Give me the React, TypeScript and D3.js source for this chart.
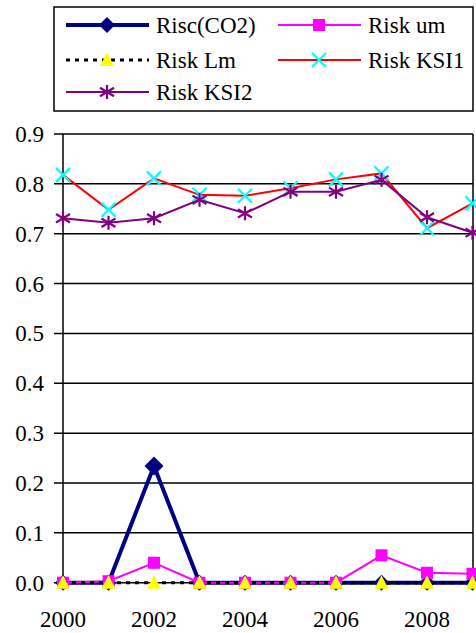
import React, { useEffect, useRef } from 'react';
import * as d3 from 'd3';

const years = [2000, 2001, 2002, 2003, 2004, 2005, 2006, 2007, 2008, 2009];
const riscCO2 = [0, 0, 0.234, 0, 0, 0, 0, 0, 0, 0];
const riskUm = [0, 0.003, 0.04, 0, 0, 0, 0, 0.055, 0.02, 0.018];
const riskLm = [0, 0, 0, 0, 0, 0, 0, 0, 0, 0];
const riskKSI1 = [0.818, 0.748, 0.811, 0.778, 0.776, 0.791, 0.809, 0.821, 0.711, 0.761];
const riskKSI2 = [0.731, 0.722, 0.731, 0.768, 0.741, 0.784, 0.784, 0.808, 0.733, 0.702];
const yTicks = [0, 0.1, 0.2, 0.3, 0.4, 0.5, 0.6, 0.7, 0.8, 0.9];
const xTicks = [2000, 2002, 2004, 2006, 2008];

const series = [
  { name: 'Risc(CO2)', values: riscCO2, color: '#000080', width: 4, dash: '', marker: 'diamond', mcolor: '#000080' },
  { name: 'Risk um', values: riskUm, color: '#ff00ff', width: 2, dash: '', marker: 'square', mcolor: '#ff00ff' },
  { name: 'Risk Lm', values: riskLm, color: '#000000', width: 3, dash: '4,5', marker: 'triangle', mcolor: '#ffff00' },
  { name: 'Risk KSI1', values: riskKSI1, color: '#ff0000', width: 2, dash: '', marker: 'x', mcolor: '#00ffff' },
  { name: 'Risk KSI2', values: riskKSI2, color: '#800080', width: 2, dash: '', marker: 'star', mcolor: '#800080' },
];

const Marker = ({ type, x, y, color, big }: { type: string; x: number; y: number; color: string; big?: boolean }) => {
  if (type === 'diamond') {
    const r = big ? 9.5 : 8;
    return <path d={`M${x},${y - r}L${x + r},${y}L${x},${y + r}L${x - r},${y}Z`} fill={color} />;
  }
  if (type === 'square') {
    return <rect x={x - 6} y={y - 6} width={12} height={12} fill={color} />;
  }
  if (type === 'triangle') {
    return <path d={`M${x},${y - 7.5}L${x + 7},${y + 6}L${x - 7},${y + 6}Z`} fill={color} />;
  }
  if (type === 'x') {
    const r = 7;
    return (
      <path d={`M${x - r},${y - r}L${x + r},${y + r}M${x + r},${y - r}L${x - r},${y + r}`} stroke={color} strokeWidth={2.2} />
    );
  }
  const r = 7;
  return (
    <path
      d={`M${x},${y - r}L${x},${y + r}M${x - r},${y - r * 0.6}L${x + r},${y + r * 0.6}M${x + r},${y - r * 0.6}L${x - r},${y + r * 0.6}`}
      stroke={color}
      strokeWidth={2.2}
    />
  );
};

const App = () => {
  const width = 476;
  const height = 633;
  const ref = useRef<SVGSVGElement>(null);

  useEffect(() => {
    document.body.style.margin = '0';
    d3.select(ref.current).selectAll('text').style('font-family', 'Liberation Serif').style('font-size', '23px');
  }, []);

  const x = d3.scaleLinear().domain([2000, 2009]).range([63, 472.5]);
  const y = d3.scaleLinear().domain([0, 0.9]).range([582.7, 134]);
  const line = d3
    .line<number>()
    .x((_, i) => x(years[i]))
    .y((d) => y(d));

  const legendPos = [
    { lx: 66, ly: 25 },
    { lx: 278, ly: 25 },
    { lx: 66, ly: 60 },
    { lx: 278, ly: 60 },
    { lx: 66, ly: 92 },
  ];

  return (
    <svg ref={ref} width={width} height={height} fontFamily="Liberation Serif" fontSize={23} style={{ display: 'block' }}>
      <rect x={0} y={0} width={width} height={height} fill="#fff" />
      {/* legend */}
      <rect x={54} y={7} width={419} height={104} fill="#fff" stroke="#000" strokeWidth={1.5} />
      {series.map((s, i) => {
        const p = legendPos[i];
        return (
          <g key={s.name}>
            <line x1={p.lx} x2={p.lx + 83} y1={p.ly} y2={p.ly} stroke={s.color} strokeWidth={s.width} strokeDasharray={s.dash} />
            <Marker type={s.marker} x={p.lx + 41} y={p.ly} color={s.mcolor} />
            <text x={p.lx + 90} y={p.ly + 8}>{s.name}</text>
          </g>
        );
      })}

      {/* grid */}
      {yTicks.map((t) => (
        <g key={t}>
          <line x1={54} x2={473} y1={y(t)} y2={y(t)} stroke="#000" strokeWidth={1.5} />
          <text x={44} y={y(t) + 8} textAnchor="end">
            {d3.format('.1f')(t)}
          </text>
        </g>
      ))}
      <line x1={63} x2={63} y1={y(0.9)} y2={y(0) + 1} stroke="#000" strokeWidth={1.5} />
      <line x1={473} x2={473} y1={y(0.9)} y2={y(0)} stroke="#000" strokeWidth={1.5} />
      {xTicks.map((t) => (
        <text key={t} x={x(t)} y={627} textAnchor="middle">
          {String(t)}
        </text>
      ))}

      {/* series */}
      {series.map((s) => (
        <g key={s.name}>
          <path d={line(s.values) || ''} fill="none" stroke={s.color} strokeWidth={s.width} strokeDasharray={s.dash} />
          {s.values.map((v, i) => (
            <Marker key={i} type={s.marker} x={x(years[i])} y={y(v)} color={s.mcolor} big={s.marker === 'diamond' && v > 0.1} />
          ))}
        </g>
      ))}
    </svg>
  );
};

export default App;
